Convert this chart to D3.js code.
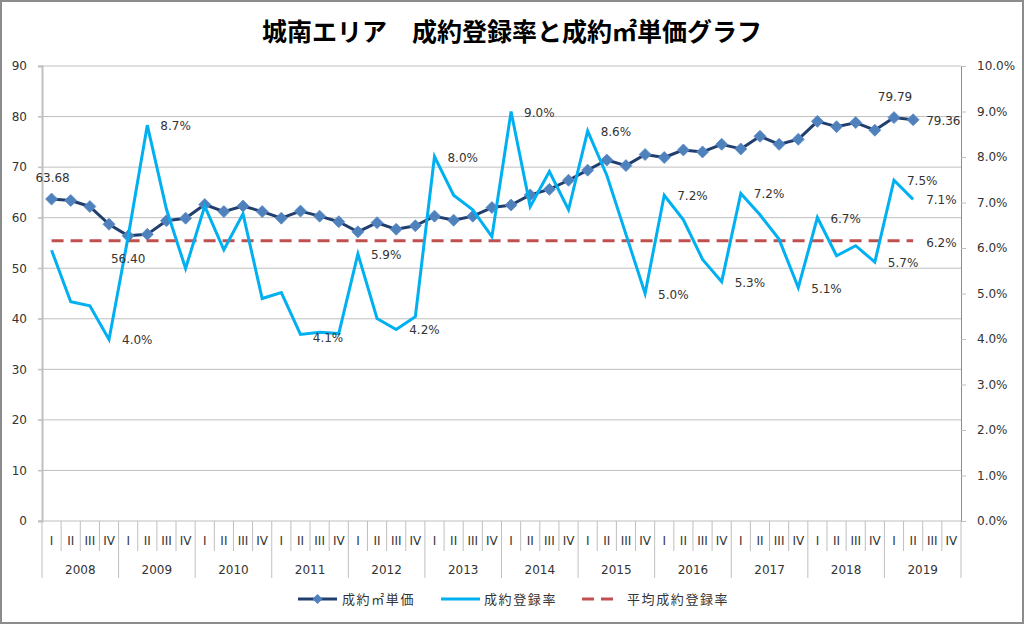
<!DOCTYPE html>
<html><head><meta charset="utf-8">
<script src="https://cdn.jsdelivr.net/npm/d3@7"></script>
<style>body{margin:0;background:#fff}svg{display:block}</style>
</head><body>
<svg id="c" width="1024" height="624"></svg>
<script>
const years = ["2008","2009","2010","2011","2012","2013","2014","2015","2016","2017","2018","2019"];
const quarters = ["I","II","III","IV"];
const price = [63.68,63.4,62.2,58.7,56.40,56.7,59.4,59.9,62.6,61.2,62.3,61.2,
  59.9,61.3,60.3,59.2,57.2,59.0,57.7,58.4,60.3,59.5,60.3,62.0,
  62.5,64.5,65.6,67.4,69.4,71.4,70.3,72.5,71.9,73.4,73.0,74.5,
  73.6,76.1,74.5,75.5,79.05,78.0,78.8,77.3,79.79,79.36];
const rate = [5.95,4.82,4.73,3.99,6.25,8.70,6.85,5.55,6.92,5.96,6.75,4.89,
  5.02,4.10,4.15,4.12,5.87,4.45,4.21,4.49,8.01,7.16,6.84,6.25,
  9.00,6.91,7.68,6.84,8.57,7.60,6.30,5.00,7.16,6.62,5.75,5.26,
  7.20,6.73,6.19,5.13,6.67,5.83,6.05,5.69,7.49,7.07];
const avgRate = 6.16;
const leftTicks = [0,10,20,30,40,50,60,70,80,90];
const rightTicks = [0,1,2,3,4,5,6,7,8,9,10];
const priceLabelIdx = [0,4,44,45];
const rateLabelIdx = [3,5,15,16,18,20,24,28,31,32,35,36,39,40,43,44,45];
const title = "城南エリア　成約登録率と成約㎡単価グラフ";
const legendNames = ["成約㎡単価","成約登録率","平均成約登録率"];

const svg = d3.select("#c");
const L = 42, R = 961, T = 66, B = 521;
const cats = [];
years.forEach(y => quarters.forEach(q => cats.push(y + "-" + q)));
const x = d3.scaleBand().domain(cats).range([L, R]).padding(0);
const cx = i => x(cats[i]) + x.bandwidth() / 2;
const y1 = d3.scaleLinear().domain([0, 90]).range([B, T]);
const y2 = d3.scaleLinear().domain([0, 10]).range([B, T]);
const numFont = "'DejaVu Sans', Verdana, sans-serif";
const cjk = "'Noto Sans CJK JP', sans-serif";
const txt = "#333";

svg.append("rect").attr("x",1).attr("y",1).attr("width",1022).attr("height",622)
  .attr("fill","#fff").attr("stroke","#8c8c8c").attr("stroke-width",2);

svg.append("text").attr("x",512).attr("y",41).attr("text-anchor","middle")
  .attr("font-family",cjk).attr("font-weight","bold").attr("font-size",25)
  .attr("fill","#000").text(title);

// gridlines
svg.append("g").selectAll("line").data(leftTicks.filter(d=>d>0)).join("line")
  .attr("x1",L-4).attr("x2",R).attr("y1",d=>y1(d)).attr("y2",d=>y1(d))
  .attr("stroke","#bfbfbf").attr("stroke-width",1);

// left axis
const gl = svg.append("g").attr("transform",`translate(${L},0)`)
  .call(d3.axisLeft(y1).tickValues(leftTicks).tickSize(4).tickPadding(11).tickFormat(d3.format("d")));
gl.select(".domain").attr("stroke","#bfbfbf").attr("stroke-width",2);
gl.selectAll(".tick line").attr("stroke","#bfbfbf");
gl.selectAll("text").attr("font-family",numFont).attr("font-size",12).attr("fill",txt);

// right axis
const gr = svg.append("g").attr("transform",`translate(${R},0)`)
  .call(d3.axisRight(y2).tickValues(rightTicks).tickSize(5).tickPadding(11).tickFormat(d => d.toFixed(1) + "%"));
gr.select(".domain").attr("stroke","#8c8c8c");
gr.selectAll(".tick line").attr("stroke","#bfbfbf");
gr.selectAll("text").attr("font-family",numFont).attr("font-size",12).attr("fill",txt);

// category axis
svg.append("line").attr("x1",L-4).attr("x2",R).attr("y1",B).attr("y2",B).attr("stroke","#bfbfbf");
const bounds = d3.range(cats.length + 1);
svg.append("g").selectAll("line").data(bounds).join("line")
  .attr("x1",k => k < cats.length ? x(cats[k]) : R).attr("x2",k => k < cats.length ? x(cats[k]) : R)
  .attr("y1",B).attr("y2",k => k % 4 === 0 ? 578 : 551)
  .attr("stroke","#bfbfbf").attr("stroke-width",1);
svg.append("g").selectAll("text").data(cats).join("text")
  .attr("x",(d,i)=>cx(i)).attr("y",545).attr("text-anchor","middle")
  .attr("font-family",numFont).attr("font-size",12).attr("fill",txt)
  .text(d => d.split("-")[1]);
svg.append("g").selectAll("text").data(years).join("text")
  .attr("x",(d,i)=>(x(cats[i*4]) + x(cats[i*4+3]) + x.bandwidth())/2).attr("y",574).attr("text-anchor","middle")
  .attr("font-family",numFont).attr("font-size",12).attr("fill",txt).text(d=>d);

// price line
const linePrice = d3.line().x((d,i)=>cx(i)).y(d=>y1(d));
svg.append("path").datum(price).attr("d",linePrice).attr("fill","none")
  .attr("stroke","#213f6e").attr("stroke-width",3).attr("stroke-linejoin","round");
const dm = 6;
svg.append("g").selectAll("path").data(price).join("path")
  .attr("d",(d,i)=>{const px=cx(i), py=y1(d); return `M${px},${py-dm}L${px+dm},${py}L${px},${py+dm}L${px-dm},${py}Z`;})
  .attr("fill","#4f81bd").attr("stroke","#5b8ac4").attr("stroke-width",0.8);

// average dashed
svg.append("line").attr("x1",cx(0)).attr("x2",cx(rate.length-1))
  .attr("y1",y2(avgRate)).attr("y2",y2(avgRate))
  .attr("stroke","#c0504d").attr("stroke-width",3).attr("stroke-dasharray","12,7");

// rate line
const lineRate = d3.line().x((d,i)=>cx(i)).y(d=>y2(d));
svg.append("path").datum(rate).attr("d",lineRate).attr("fill","none")
  .attr("stroke","#00b0f0").attr("stroke-width",3).attr("stroke-linejoin","miter");

// labels
const lab = svg.append("g").attr("font-family",numFont).attr("font-size",12).attr("fill",txt);
rateLabelIdx.forEach(i => {
  const special = (i === 15);
  lab.append("text").attr("x",cx(i) + (special ? -26 : 13)).attr("y",y2(rate[i]) + (special ? 8 : 5))
    .text(rate[i].toFixed(1) + "%");
});
lab.append("text").attr("x",cx(rate.length-1)+13).attr("y",y2(avgRate)+6).text(avgRate.toFixed(1)+"%");
priceLabelIdx.forEach((i,k) => {
  const px = cx(i), py = y1(price[i]);
  const t = lab.append("text").text(price[i].toFixed(2));
  if (i === 45) t.attr("x",px+13).attr("y",py+5);
  else if (i === 4) t.attr("x",px).attr("y",py+27).attr("text-anchor","middle");
  else t.attr("x",px+1).attr("y",py-17).attr("text-anchor","middle");
});

// legend
const lg = svg.append("g");
const ly = 599;
lg.append("line").attr("x1",298).attr("x2",337).attr("y1",ly).attr("y2",ly).attr("stroke","#213f6e").attr("stroke-width",3);
lg.append("path").attr("d",`M317.5,${ly-5}L322.5,${ly}L317.5,${ly+5}L312.5,${ly}Z`).attr("fill","#4f81bd");
lg.append("line").attr("x1",441).attr("x2",480).attr("y1",ly).attr("y2",ly).attr("stroke","#00b0f0").attr("stroke-width",3);
lg.append("line").attr("x1",582).attr("x2",614).attr("y1",ly).attr("y2",ly).attr("stroke","#c0504d").attr("stroke-width",3).attr("stroke-dasharray","12,7");
[[342,0],[484,1],[627,2]].forEach(([lx,k]) => {
  lg.append("text").attr("x",lx).attr("y",ly+5).attr("font-family",cjk).attr("font-size",13)
    .attr("letter-spacing","1.6px").attr("fill",txt).text(legendNames[k]);
});
</script>
</body></html>
